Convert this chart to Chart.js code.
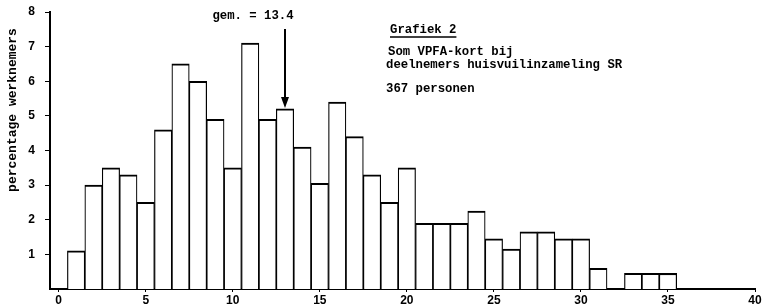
<!DOCTYPE html>
<html>
<head>
<meta charset="utf-8">
<script src="https://cdn.jsdelivr.net/npm/chart.js@4/dist/chart.umd.min.js"></script>
<style>
  body { margin: 0; background: #fff; }
</style>
</head>
<body>
<canvas id="myChart" width="764" height="308"></canvas>
<script>
// bins (aantal) and percentage werknemers per bin
const bins = [1, 2, 3, 4, 5, 6, 7, 8, 9, 10, 11, 12, 13, 14, 15, 16, 17, 18,
  19, 20, 21, 22, 23, 24, 25, 26, 27, 28, 29, 30, 31, 32, 33, 34, 35];
const percentages = [1.1, 3.0, 3.5, 3.3, 2.5, 4.6, 6.5, 6.0, 4.9, 3.5, 7.1, 4.9,
  5.2, 4.1, 3.05, 5.4, 4.4, 3.3, 2.5, 3.5, 1.9, 1.9, 1.9, 2.25, 1.45, 1.15,
  1.65, 1.65, 1.45, 1.45, 0.6, 0, 0.45, 0.45, 0.45];
const xTicks = [0, 5, 10, 15, 20, 25, 30, 35, 40];
const yTicks = [1, 2, 3, 4, 5, 6, 7, 8];

const yTitle = "percentage werknemers";
const meanBin = 13;
const meanLabel = "gem. = 13.4";
const titleText = "Grafiek 2";
const noteLines = ["Som VPFA-kort bij", "deelnemers huisvuilinzameling SR"];
const countText = "367 personen";

const mono = '"Liberation Mono", "DejaVu Sans Mono", monospace';
const sans = '"Liberation Sans", Arial, sans-serif';

const annotations = {
  id: "annotations",
  afterDraw(chart) {
    const ctx = chart.ctx;
    const x = chart.scales.x;
    const y = chart.scales.y;

    ctx.save();
    ctx.fillStyle = "#000";
    ctx.strokeStyle = "#000";

    // y axis title
    ctx.save();
    ctx.font = "bold 13px " + mono;
    ctx.translate(13, 110);
    ctx.rotate(-Math.PI / 2);
    ctx.textAlign = "center";
    ctx.textBaseline = "middle";
    ctx.fillText(yTitle, 0, 0);
    ctx.restore();

    // mean arrow pointing at its bar
    const ax = x.getPixelForValue(meanBin);
    const tipY = y.getPixelForValue(percentages[bins.indexOf(meanBin)]) - 1;
    ctx.font = "bold 12.3px " + mono;
    ctx.textAlign = "center";
    ctx.textBaseline = "middle";
    ctx.fillText(meanLabel, ax - 32, 16);
    ctx.lineWidth = 2;
    ctx.beginPath();
    ctx.moveTo(ax, 29);
    ctx.lineTo(ax, tipY - 8);
    ctx.stroke();
    ctx.beginPath();
    ctx.moveTo(ax - 4, tipY - 11);
    ctx.lineTo(ax + 4, tipY - 11);
    ctx.lineTo(ax, tipY);
    ctx.closePath();
    ctx.fill();

    // text block
    ctx.textAlign = "left";
    ctx.fillText(titleText, 390, 30);
    const w = ctx.measureText(titleText).width;
    ctx.lineWidth = 1.5;
    ctx.beginPath();
    ctx.moveTo(390, 37);
    ctx.lineTo(390 + w, 37);
    ctx.stroke();
    ctx.fillText(noteLines[0], 388, 52);
    ctx.fillText(noteLines[1], 386, 65);
    ctx.fillText(countText, 386, 89);

    ctx.restore();
  }
};

function makeChart() {
  const ctx = document.getElementById("myChart").getContext("2d");

  const myChart = new Chart(ctx, {
    type: "bar",
    data: {
      datasets: [
        {
          data: bins.map((b, i) => {
            return { x: b, y: percentages[i] };
          }),
          backgroundColor: "#fff",
          borderColor: "#000",
          borderWidth: { top: 2, left: 1.2, right: 1.2, bottom: 0 },
          categoryPercentage: 1,
          barPercentage: 1,
        },
      ],
    },
    options: {
      responsive: false,
      animation: false,
      layout: { padding: { top: 12, right: 9, left: 0, bottom: 0 } },
      plugins: {
        legend: { display: false },
        tooltip: { enabled: false },
      },
      scales: {
        x: {
          type: "linear",
          offset: false,
          min: -0.5,
          max: 40,
          afterBuildTicks: (axis) => {
            axis.ticks = xTicks.map((v) => ({ value: v }));
          },
          afterFit: (axis) => {
            axis.height = 19;
          },
          border: { color: "#000", width: 2 },
          grid: { offset: false, drawOnChartArea: false, color: "#000", tickLength: 3 },
          ticks: {
            color: "#000",
            padding: 1,
            maxRotation: 0,
            font: { family: sans, size: 12, weight: "bold" },
          },
        },
        y: {
          min: 0,
          max: 8,
          afterBuildTicks: (axis) => {
            axis.ticks = yTicks.map((v) => ({ value: v }));
          },
          afterFit: (axis) => {
            axis.width = 50;
            axis.paddingTop = 0;
            axis.paddingBottom = 0;
          },
          border: { color: "#000", width: 2 },
          grid: { drawOnChartArea: false, color: "#000", tickLength: 5 },
          ticks: {
            color: "#000",
            padding: 10,
            font: { family: sans, size: 12, weight: "bold" },
          },
        },
      },
    },
    plugins: [annotations],
  });
}

makeChart();
</script>
</body>
</html>
